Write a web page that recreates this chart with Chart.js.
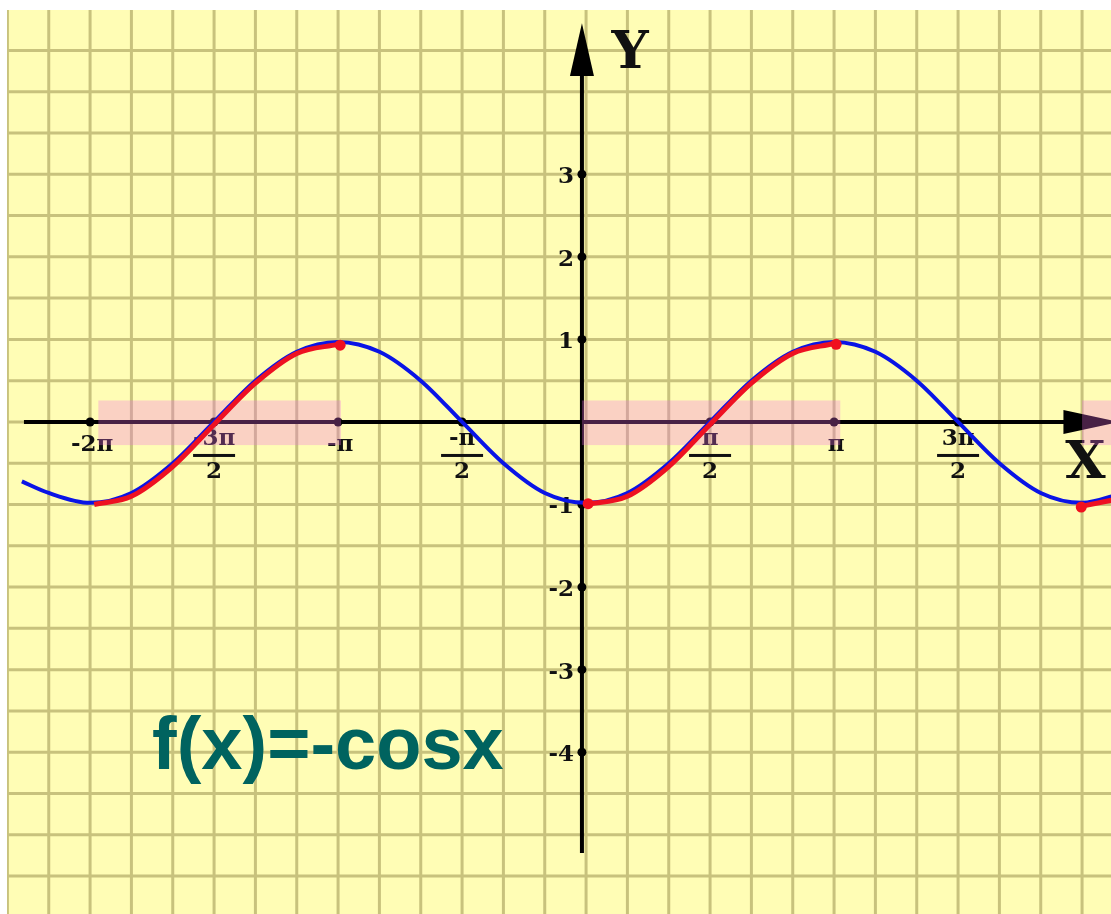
<!DOCTYPE html>
<html><head><meta charset="utf-8">
<script src="https://cdn.jsdelivr.net/npm/chart.js@4.4.1/dist/chart.umd.min.js"></script>
<style>html,body{margin:0;padding:0;background:#fff;}canvas{display:block}</style>
</head><body>
<canvas id="c" width="1111" height="914"></canvas>
<script>
// x values are in grid cells: 1 cell = π/6
const blueX = [-13.65,-13,-12,-11,-10,-9,-8,-7,-6,-5,-4,-3,-2,-1,0,1,2,3,4,5,6,7,8,9,10,11,12,13];
const blueY = [-0.72,-0.86,-0.98,-0.86,-0.5,0,0.5,0.85,0.97,0.85,0.5,0,-0.5,-0.86,-0.98,-0.86,-0.5,0,0.5,0.85,0.97,0.85,0.5,0,-0.5,-0.86,-0.98,-0.86];
const red1X = [-11.9,-11,-10,-9,-8,-7,-6];
const red1Y = [-1.0,-0.9,-0.54,-0.03,0.47,0.83,0.94];
const red2X = [0,1,2,3,4,5,6];
const red2Y = [-1.0,-0.9,-0.54,-0.03,0.47,0.83,0.95];
const red3X = [12,13];
const red3Y = [-1.02,-0.92];
const redDotX = [-5.95,0.05,6.05,11.98];
const redDotY = [0.93,-0.99,0.94,-1.03];
const xTickCells = [-12,-9,-6,-3,3,6,9];
const xTickNum = ['-2π','-3π','-π','-π','π','π','3π'];
const xTickDen = ['','2','','2','2','','2'];
const yTickVals = [3,2,1,-1,-2,-3,-4];
const yTickLabels = ['3','2','1','-1','-2','-3','-4'];
const bandFrom = [-11.8,-0.1,12.0];
const bandTo = [-5.93,6.15,13];
const bandLow = -0.28, bandHigh = 0.26;
const gridX = [-14,-13,-12,-11,-10,-9,-8,-7,-6,-5,-4,-3,-2,-1,0,1,2,3,4,5,6,7,8,9,10,11,12];
const gridY = [-5.5,-5,-4.5,-4,-3.5,-3,-2.5,-2,-1.5,-1,-0.5,0,0.5,1,1.5,2,2.5,3,3.5,4,4.5];
const axisXAt = -0.1;      // y axis position (cells)
const xAxisStart = -13.6, xArrowBase = 11.55, xArrowTip = 12.9;
const yAxisStart = -5.22, yArrowBase = 4.19, yArrowTip = 4.83;
const formula = 'f(x)=-cosx';

const toPts = (xs, ys) => xs.map((x, i) => ({x, y: ys[i]}));

const decor = {
  id: 'decor',
  beforeDatasetsDraw(chart) {
    const {ctx, chartArea: a} = chart;
    const xs = chart.scales.x, ys = chart.scales.y;
    const X = v => xs.getPixelForValue(v), Y = v => ys.getPixelForValue(v);
    ctx.save();
    ctx.beginPath(); ctx.rect(a.left, a.top, a.right - a.left, a.bottom - a.top); ctx.clip();
    ctx.fillStyle = '#FFFDB5';
    ctx.fillRect(a.left, a.top, a.right - a.left, a.bottom - a.top);
    // grid
    ctx.strokeStyle = '#C8C27D'; ctx.lineWidth = 3;
    gridX.forEach(v => { ctx.beginPath(); ctx.moveTo(X(v), a.top); ctx.lineTo(X(v), a.bottom); ctx.stroke(); });
    gridY.forEach(v => { ctx.beginPath(); ctx.moveTo(a.left, Y(v)); ctx.lineTo(a.right, Y(v)); ctx.stroke(); });
    // axes
    ctx.strokeStyle = '#000'; ctx.fillStyle = '#000'; ctx.lineWidth = 4;
    ctx.beginPath(); ctx.moveTo(X(xAxisStart), Y(0)); ctx.lineTo(X(xArrowBase) + 2, Y(0)); ctx.stroke();
    ctx.beginPath(); ctx.moveTo(X(xArrowBase), Y(0) - 12); ctx.lineTo(X(xArrowTip), Y(0)); ctx.lineTo(X(xArrowBase), Y(0) + 12); ctx.closePath(); ctx.fill();
    ctx.beginPath(); ctx.moveTo(X(axisXAt), Y(yAxisStart)); ctx.lineTo(X(axisXAt), Y(yArrowBase) - 2); ctx.stroke();
    ctx.beginPath(); ctx.moveTo(X(axisXAt) - 12, Y(yArrowBase)); ctx.lineTo(X(axisXAt), Y(yArrowTip)); ctx.lineTo(X(axisXAt) + 12, Y(yArrowBase)); ctx.closePath(); ctx.fill();
    // tick dots
    xTickCells.forEach(c => { ctx.beginPath(); ctx.arc(X(c), Y(0), 4.5, 0, Math.PI * 2); ctx.fill(); });
    yTickVals.forEach(v => { ctx.beginPath(); ctx.arc(X(axisXAt), Y(v), 4.5, 0, Math.PI * 2); ctx.fill(); });
    // labels
    ctx.fillStyle = '#111';
    ctx.font = 'bold 23px "DejaVu Serif"';
    ctx.textBaseline = 'middle'; ctx.textAlign = 'center';
    xTickCells.forEach((c, i) => {
      const px = X(c), py = Y(0);
      if (xTickDen[i]) {
        ctx.fillText(xTickNum[i], px, py + 17);
        ctx.fillRect(px - 21, py + 32, 42, 3);
        ctx.fillText(xTickDen[i], px, py + 50);
      } else {
        ctx.fillText(xTickNum[i], px + 2, py + 23);
      }
    });
    ctx.textAlign = 'right';
    yTickVals.forEach((v, i) => { ctx.fillText(yTickLabels[i], X(axisXAt) - 8, Y(v) + 3); });
    ctx.font = 'bold 52px "DejaVu Serif"'; ctx.textAlign = 'center';
    ctx.fillText('Y', X(axisXAt) + 48, Y(yArrowTip) + 31);
    ctx.fillText('X', X(xArrowBase) + 22, Y(0) + 43);
    // bands
    ctx.fillStyle = 'rgba(240,110,230,0.3)';
    bandFrom.forEach((f, i) => {
      ctx.fillRect(X(f), Y(bandHigh), X(bandTo[i]) - X(f), Y(bandLow) - Y(bandHigh));
    });
    // formula
    ctx.fillStyle = '#00635F';
    ctx.font = 'bold 74px "Liberation Sans"';
    ctx.textAlign = 'left'; ctx.textBaseline = 'alphabetic';
    ctx.fillText(formula, X(-10.5), Y(-4.2));
    ctx.restore();
  }
};

new Chart(document.getElementById('c'), {
  type: 'scatter',
  data: {
    datasets: [
      {data: toPts(redDotX, redDotY), showLine: false, pointRadius: 5.5, pointBackgroundColor: '#F0101E', pointBorderWidth: 0, order: 0},
      {data: toPts(red1X, red1Y), showLine: true, borderColor: '#EE1122', borderWidth: 5, pointRadius: 0, cubicInterpolationMode: 'monotone', order: 1},
      {data: toPts(red2X, red2Y), showLine: true, borderColor: '#EE1122', borderWidth: 5, pointRadius: 0, cubicInterpolationMode: 'monotone', order: 1},
      {data: toPts(red3X, red3Y), showLine: true, borderColor: '#EE1122', borderWidth: 5, pointRadius: 0, cubicInterpolationMode: 'monotone', order: 1},
      {data: toPts(blueX, blueY), showLine: true, borderColor: '#0A14E6', borderWidth: 4, pointRadius: 0, cubicInterpolationMode: 'monotone', order: 2}
    ]
  },
  options: {
    responsive: false, animation: false, devicePixelRatio: 1,
    layout: {autoPadding: false, padding: {left: 7, top: 10, right: 0, bottom: 0}},
    plugins: {legend: {display: false}, tooltip: {enabled: false}},
    scales: {
      x: {type: 'linear', display: false, min: -14.01, max: 12.70},
      y: {type: 'linear', display: false, min: -5.96, max: 4.99}
    }
  },
  plugins: [decor]
});
</script>
</body></html>
